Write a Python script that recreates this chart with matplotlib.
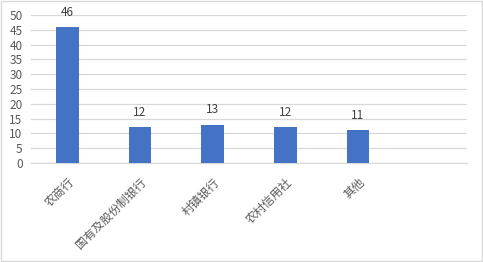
import matplotlib
matplotlib.use('Agg')
import matplotlib.pyplot as plt
from matplotlib.patches import Rectangle

plt.rcParams['font.family'] = ['Noto Sans CJK SC', 'DejaVu Sans']

# 数据
categories = ['农商行', '国有及股份制银行', '村镇银行', '农村信用社', '其他', '']
values = [46, 12, 13, 12, 11, None]
y_ticks = [0, 5, 10, 15, 20, 25, 30, 35, 40, 45, 50]

fig = plt.figure(figsize=(4.83, 2.62), dpi=100)
ax = fig.add_axes([31 / 483, (262 - 163) / 262, 436 / 483, 148 / 262])

x = list(range(len(categories)))
bar_x = [i for i, v in zip(x, values) if v is not None]
bar_v = [v for v in values if v is not None]
bars = ax.bar(bar_x, bar_v, width=0.31, color='#4472C4', zorder=3)

# 数据标签
for b, v in zip(bars, bar_v):
    ax.text(b.get_x() + b.get_width() / 2, v + 2.8, str(v), ha='center', va='bottom',
            fontsize=8.5, color='#404040')

ax.set_xlim(-0.5, len(categories) - 0.5)
ax.set_ylim(0, 50)
ax.set_yticks(y_ticks)
ax.set_xticks(x)
ax.set_xticklabels(categories, rotation=45, ha='right', rotation_mode='anchor',
                   fontsize=8.5, color='#595959')
for lbl in ax.get_xticklabels():
    lbl.set_x(lbl.get_position()[0])
ax.tick_params(axis='y', length=0, labelsize=8.5, labelcolor='#595959', pad=6)
ax.tick_params(axis='x', length=0, pad=9)

ax.grid(axis='y', color='#d9d9d9', linewidth=0.9, zorder=0)
for s in ['top', 'right', 'left']:
    ax.spines[s].set_visible(False)
ax.spines['bottom'].set_color('#d9d9d9')
ax.spines['bottom'].set_linewidth(0.9)

# 外框
fig.patches.append(Rectangle((0.002, 0.004), 0.995, 0.992, transform=fig.transFigure,
                             fill=False, edgecolor='#d9d9d9', linewidth=1))

fig.savefig('out.png', dpi=100)
